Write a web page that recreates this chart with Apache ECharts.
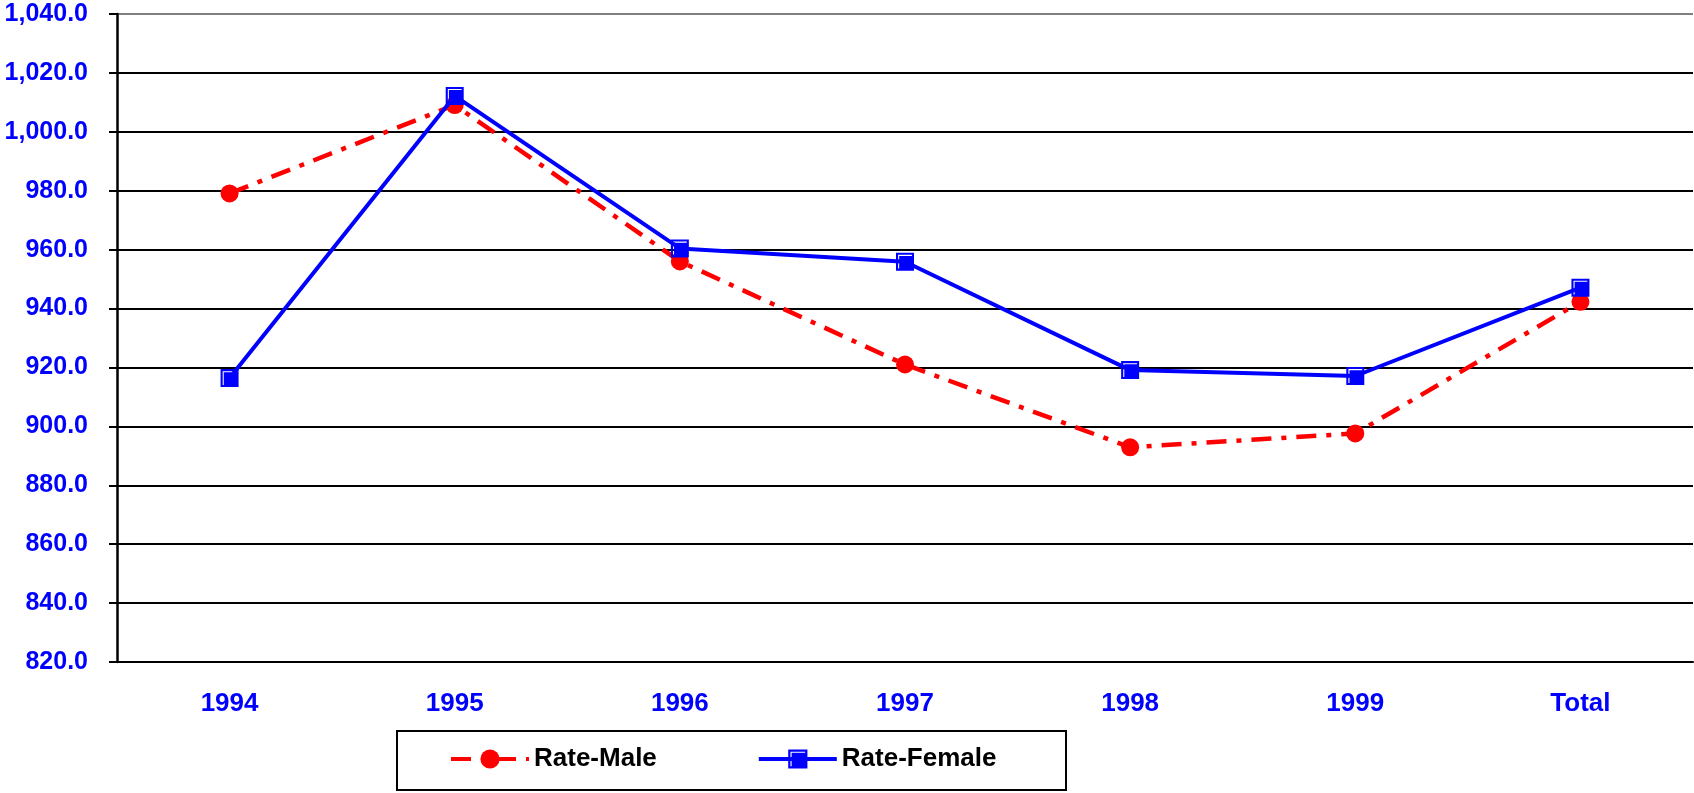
<!DOCTYPE html>
<html>
<head>
<meta charset="utf-8">
<script src="https://cdn.jsdelivr.net/npm/echarts@6/dist/echarts.min.js"></script>
<style>
  html, body { margin: 0; padding: 0; background: #fff; }
  #chart { width: 1694px; height: 793px; }
</style>
</head>
<body>
<div id="chart"></div>
<script>
// categories and values
const years = ['1994', '1995', '1996', '1997', '1998', '1999', 'Total'];
const rateMale = [979.1, 1009.1, 956.0, 921.0, 892.9, 897.6, 942.3];
const rateFemale = [916.4, 1012.2, 960.4, 955.9, 919.1, 917.1, 947.1];

// square marker with the small white inset highlight
const squareMark = 'path://M0 0H17V17H0Z M2 2V15H3V3H15V2Z';

const gridColors = [];
for (let i = 0; i < 11; i++) gridColors.push('#000');
gridColors.push('#808080');

const chart = echarts.init(document.getElementById('chart'));
chart.setOption({
  animation: false,
  grid: { left: 117, right: 1, top: 14, bottom: 131 },
  graphic: [
    {
      type: 'rect',
      shape: { x: 397, y: 731, width: 669, height: 59 },
      style: { fill: '#fff', stroke: '#000', lineWidth: 2 },
      z: 0
    }
  ],
  legend: {
    left: 449,
    top: 746,
    padding: 0,
    itemWidth: 78,
    itemHeight: 24,
    itemGap: 100,
    lineStyle: { width: 4 },
    textStyle: {
      fontFamily: 'Arial, Liberation Sans, sans-serif',
      fontWeight: 'bold',
      fontSize: 26,
      color: '#000'
    },
    data: ['Rate-Male', 'Rate-Female'],
    z: 5
  },
  xAxis: {
    type: 'category',
    data: years,
    axisLine: { lineStyle: { color: '#000', width: 2 } },
    axisTick: { length: 8, lineStyle: { color: '#000', width: 2 } },
    axisLabel: {
      margin: 29,
      color: '#0000ff',
      fontFamily: 'Arial, Liberation Sans, sans-serif',
      fontWeight: 'bold',
      fontSize: 26
    }
  },
  yAxis: {
    type: 'value',
    min: 820,
    max: 1040,
    interval: 20,
    axisLine: { show: true, lineStyle: { color: '#000', width: 2.5 } },
    axisTick: { show: true, length: 8, lineStyle: { color: '#000', width: 2 } },
    splitLine: { lineStyle: { color: gridColors, width: 2 } },
    axisLabel: {
      margin: 29,
      color: '#0000ff',
      fontFamily: 'Arial, Liberation Sans, sans-serif',
      fontWeight: 'bold',
      fontSize: 25,
      formatter: (v) => v.toLocaleString('en-US', { minimumFractionDigits: 1, maximumFractionDigits: 1 })
    }
  },
  series: [
    {
      name: 'Rate-Male',
      type: 'line',
      data: rateMale,
      symbol: 'circle',
      symbolSize: 18,
      color: '#ff0000',
      itemStyle: { color: '#ff0000' },
      lineStyle: { color: '#ff0000', width: 4.5, type: [20, 10, 5, 10] },
      z: 2
    },
    {
      name: 'Rate-Female',
      type: 'line',
      data: rateFemale,
      symbol: squareMark,
      symbolSize: 18,
      color: '#0000ff',
      itemStyle: { color: '#0000ff' },
      lineStyle: { color: '#0000ff', width: 4 },
      z: 3
    }
  ]
});
</script>
</body>
</html>
